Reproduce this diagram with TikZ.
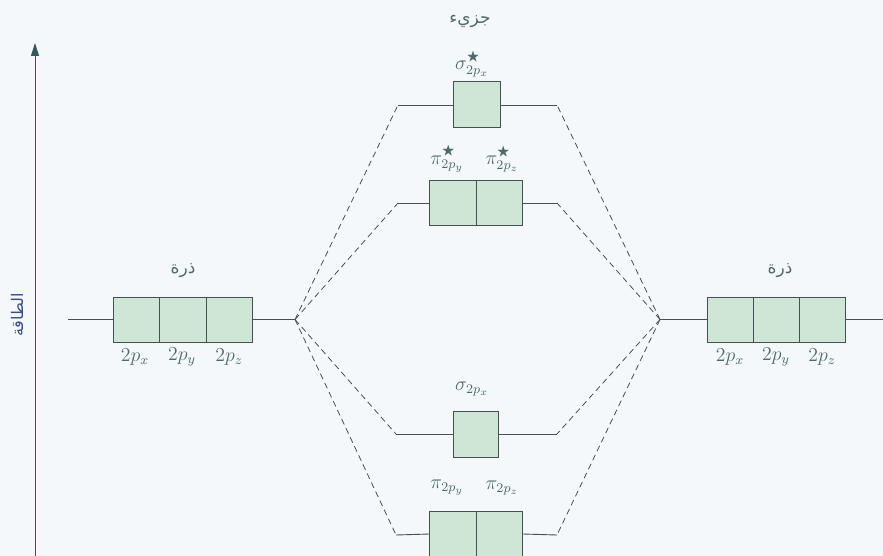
\documentclass[tikz,border=0pt]{standalone}
\usepackage{graphicx}
\usepackage{amssymb}
\usepackage{fontspec}
\newfontfamily\arabicfont[Script=Arabic]{DejaVu Sans}
\TeXXeTstate=1
\usetikzlibrary{arrows.meta}
\definecolor{bgc}{HTML}{F4F8FA}
\definecolor{boxfill}{HTML}{CFE5D6}
\definecolor{linec}{HTML}{44524F}
\definecolor{txtc}{HTML}{4F6A6A}
\definecolor{axc}{HTML}{2F5A5A}
\definecolor{axlab}{HTML}{3A4F8A}
\newcommand{\mlab}[1]{\scalebox{1.65}{\fontsize{12}{14}\selectfont$#1$}}
\begin{document}
\begin{tikzpicture}[x=1pt,y=-1pt,
  orb/.style={draw=linec, fill=boxfill, line width=1pt, minimum width=46.5pt, minimum height=45pt, inner sep=0pt, outer sep=0pt},
  lvl/.style={draw=linec, line width=0.9pt},
  dsh/.style={draw=linec, line width=0.8pt, dash pattern=on 6pt off 4pt},
  lab/.style={text=txtc, inner sep=0pt},
  alab/.style={text=txtc, font=\arabicfont\fontsize{17}{20}\selectfont, inner sep=0pt}]
\fill[bgc] (0,0) rectangle (883,556);
\useasboundingbox (0,0) rectangle (883,556);

% energy axis
\coordinate (axb) at (35,556);
\coordinate (axt) at (35,43);
\draw[axc, line width=1pt, -{Triangle[length=13pt,width=8pt]}] (axb) -- (axt);
\node[rotate=90, text=axlab, font=\arabicfont\fontsize{16}{18}\selectfont, inner sep=0pt] (axl) at (17,315) {\beginR الطاقة\endR};

% left atom
\coordinate (la) at (68,319.5);
\coordinate (jl) at (295,319.5);
\node[orb] (l1) at (136.3,319.5) {};
\node[orb] (l2) at (183,319.5) {};
\node[orb] (l3) at (229.7,319.5) {};
\draw[lvl] (la) -- (l1.west);
\draw[lvl] (l3.east) -- (jl);
\node[alab] (lt) at (183,271) {\beginR ذرة\endR};
\node[lab] (lx) at (135,357) {\mlab{2p_x}};
\node[lab] (ly) at (182,357) {\mlab{2p_y}};
\node[lab] (lz) at (229,357) {\mlab{2p_z}};

% right atom
\coordinate (ra) at (883,319.5);
\coordinate (jr) at (660,319.5);
\node[orb, minimum width=46pt] (r1) at (730,319.5) {};
\node[orb, minimum width=46pt] (r2) at (776,319.5) {};
\node[orb, minimum width=46pt] (r3) at (822,319.5) {};
\draw[lvl] (jr) -- (r1.west);
\draw[lvl] (r3.east) -- (ra);
\node[alab] (rt) at (780,271) {\beginR ذرة\endR};
\node[lab] (rx) at (730,357) {\mlab{2p_x}};
\node[lab] (ry) at (776,357) {\mlab{2p_y}};
\node[lab] (rz) at (822,357) {\mlab{2p_z}};

% molecule title
\node[alab] (mt) at (470,21) {\beginR جزيء\endR};

% sigma* 2px
\node[orb, minimum width=47pt, minimum height=46pt] (ss) at (476.5,105) {};
\coordinate (ssl) at (398,105);
\coordinate (ssr) at (557,105);
\draw[lvl] (ssl) -- (ss.west);
\draw[lvl] (ss.east) -- (ssr);
\node[lab] (ssn) at (472,64) {\mlab{\sigma^{\bigstar}_{2p_x}}};

% pi* 2py 2pz
\node[orb] (pa) at (453,203) {};
\node[orb] (pb) at (499.5,203) {};
\coordinate (pal) at (398,203);
\coordinate (pbr) at (557,203);
\draw[lvl] (pal) -- (pa.west);
\draw[lvl] (pb.east) -- (pbr);
\node[lab] (pan) at (447,159) {\mlab{\pi^{\bigstar}_{2p_y}}};
\node[lab] (pbn) at (502,159) {\mlab{\pi^{\bigstar}_{2p_z}}};

% sigma 2px
\node[orb, minimum width=45pt, minimum height=46pt] (sb) at (475.5,434) {};
\coordinate (sbl) at (396,434);
\coordinate (sbr) at (557,434);
\draw[lvl] (sbl) -- (sb.west);
\draw[lvl] (sb.east) -- (sbr);
\node[lab] (sbn) at (472,389) {\mlab{\sigma_{2p_x}}};

% pi 2py 2pz
\node[orb, minimum height=46pt] (qa) at (453,534) {};
\node[orb, minimum height=46pt] (qb) at (499.5,534) {};
\coordinate (qal) at (396,535);
\coordinate (qbr) at (557,535);
\draw[lvl] (qal) -- (qa.west);
\draw[lvl] (qb.east) -- (qbr);
\node[lab] (qan) at (447,488) {\mlab{\pi_{2p_y}}};
\node[lab] (qbn) at (502,488) {\mlab{\pi_{2p_z}}};

% correlation lines
\draw[dsh] (jl) -- (ssl);
\draw[dsh] (jl) -- (pal);
\draw[dsh] (jl) -- (sbl);
\draw[dsh] (jl) -- (qal);
\draw[dsh] (jr) -- (ssr);
\draw[dsh] (jr) -- (pbr);
\draw[dsh] (jr) -- (sbr);
\draw[dsh] (jr) -- (qbr);
\end{tikzpicture}
\end{document}
